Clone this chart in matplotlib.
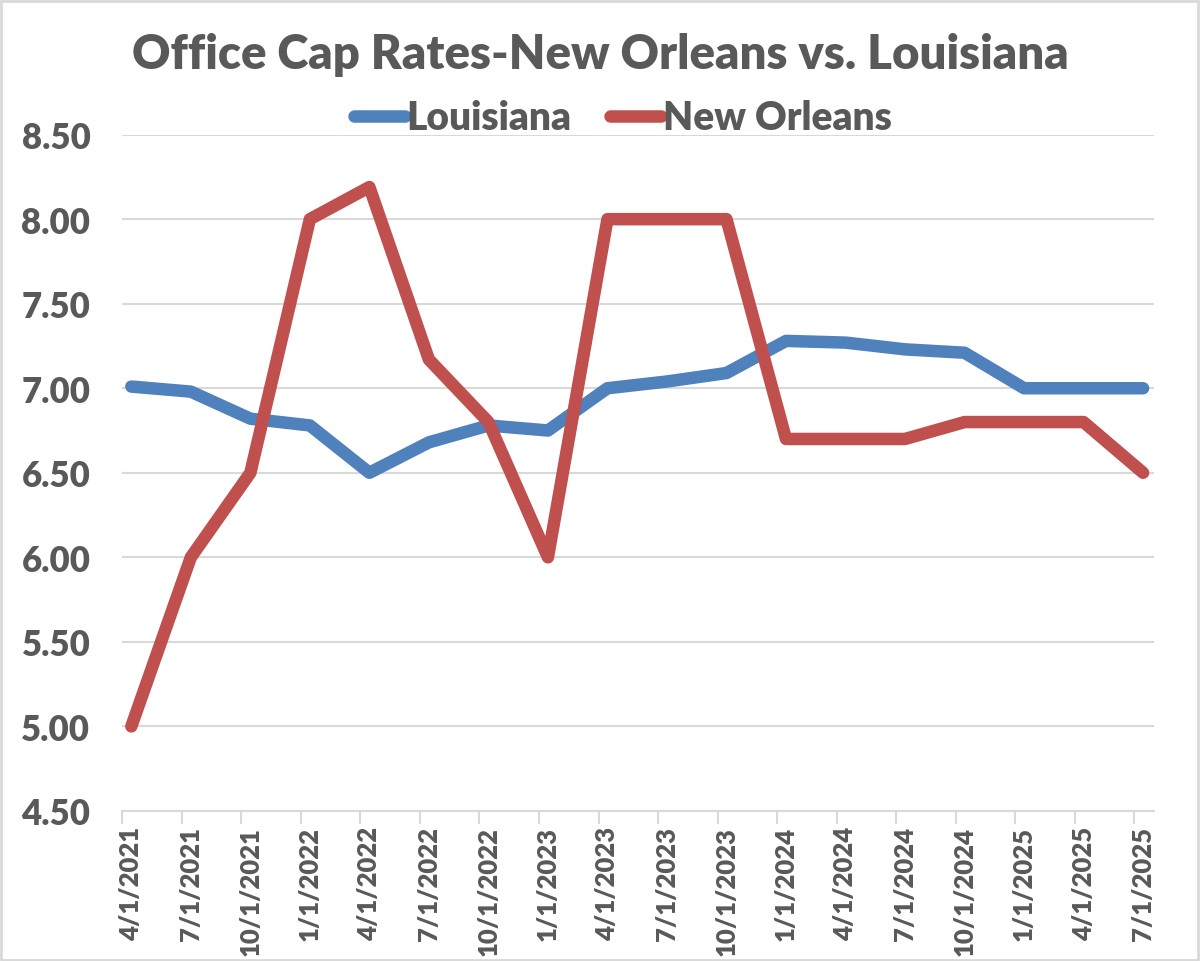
import matplotlib.pyplot as plt
from matplotlib.patches import Rectangle

dates = ["4/1/2021", "7/1/2021", "10/1/2021", "1/1/2022", "4/1/2022", "7/1/2022",
         "10/1/2022", "1/1/2023", "4/1/2023", "7/1/2023", "10/1/2023", "1/1/2024",
         "4/1/2024", "7/1/2024", "10/1/2024", "1/1/2025", "4/1/2025", "7/1/2025"]
louisiana = [7.01, 6.98, 6.82, 6.78, 6.50, 6.68, 6.78, 6.75, 7.00, 7.04, 7.09, 7.28,
             7.27, 7.23, 7.21, 7.00, 7.00, 7.00]
new_orleans = [5.00, 6.00, 6.50, 8.00, 8.19, 7.17, 6.80, 6.00, 8.00, 8.00, 8.00, 6.70,
               6.70, 6.70, 6.80, 6.80, 6.80, 6.50]

TXT = "#595959"
GRID = "#d9d9d9"
plt.rcParams["font.family"] = ["Lato", "DejaVu Sans"]
plt.rcParams["font.weight"] = "heavy"

fig = plt.figure(figsize=(12, 9.62), dpi=100)
fig.patches.append(Rectangle((0.001, 0.001), 0.997, 0.997, transform=fig.transFigure,
                             fill=False, edgecolor=GRID, linewidth=2))
ax = fig.add_axes([0.102, 0.156, 0.860, 0.703])

x = list(range(len(dates)))
ax.plot(x, louisiana, color="#4F81BD", lw=9, solid_capstyle="round",
        solid_joinstyle="round", label="Louisiana", zorder=3)
ax.plot(x, new_orleans, color="#C0504D", lw=9, solid_capstyle="round",
        solid_joinstyle="round", label="New Orleans", zorder=3)

ax.set_ylim(4.5, 8.5)
ax.set_xlim(-0.14, len(dates) - 1 + 0.19)
yt = [4.5 + 0.5 * i for i in range(9)]
ax.set_yticks(yt)
ax.set_yticklabels([f"{v:.2f}" for v in yt])
ax.grid(axis="y", color=GRID, lw=1.5)
ax.set_axisbelow(True)

ax.set_xticks(x)
ax.set_xticklabels(dates, rotation=90)
ax.set_xticks([i - 0.15 for i in x], minor=True)
ax.tick_params(axis="x", which="major", length=0, pad=11, labelsize=18.5, labelcolor=TXT)
ax.tick_params(axis="x", which="minor", length=9, width=1.5, color=GRID)
ax.tick_params(axis="y", length=0, pad=23, labelsize=25, labelcolor=TXT)

for s in ["top", "right", "left"]:
    ax.spines[s].set_visible(False)
ax.spines["bottom"].set_color(GRID)
ax.spines["bottom"].set_linewidth(1.5)

fig.text(0.5, 0.943, "Office Cap Rates-New Orleans vs. Louisiana", ha="center",
         va="center", fontsize=34, fontweight="heavy", color=TXT)
leg = ax.legend(loc="center", bbox_to_anchor=(0.485, 1.025), ncol=2, frameon=False,
                fontsize=28, handlelength=1.3, handletextpad=0.05, columnspacing=1.0)
for t in leg.get_texts():
    t.set_color(TXT)

fig.savefig("out.png", dpi=100, facecolor="white")
